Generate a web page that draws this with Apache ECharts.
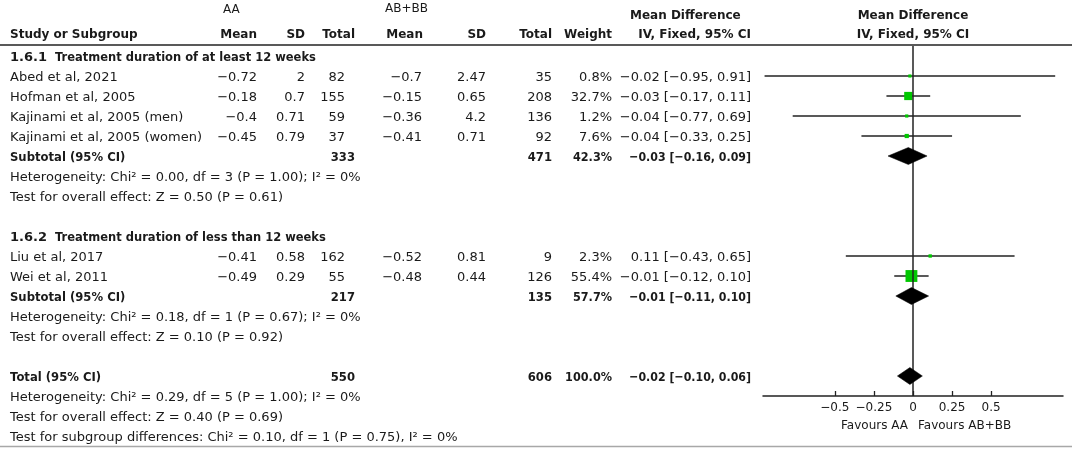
<!DOCTYPE html>
<html>
<head>
<meta charset="utf-8">
<script src="https://cdn.jsdelivr.net/npm/echarts@6/dist/echarts.min.js"></script>
<style>
  html, body { margin: 0; padding: 0; background: #fff; }
  #chart { width: 1072px; height: 450px; }
</style>
</head>
<body>
<div id="chart"></div>
<script>
// study rows
var studies = ['Abed et al, 2021', 'Hofman et al, 2005', 'Kajinami et al, 2005 (men)',
               'Kajinami et al, 2005 (women)', 'Liu et al, 2017', 'Wei et al, 2011'];
var studyRow = [1, 2, 3, 4, 10, 11];
var aaMean = [-0.72, -0.18, -0.4, -0.45, -0.41, -0.49];
var aaSD = [2, 0.7, 0.71, 0.79, 0.58, 0.29];
var aaN = [82, 155, 59, 37, 162, 55];
var abMean = [-0.7, -0.15, -0.36, -0.41, -0.52, -0.48];
var abSD = [2.47, 0.65, 4.2, 0.71, 0.81, 0.44];
var abN = [35, 208, 136, 92, 9, 126];
var weight = [0.8, 32.7, 1.2, 7.6, 2.3, 55.4];
var md = [-0.02, -0.03, -0.04, -0.04, 0.11, -0.01];
var ciLo = [-0.95, -0.17, -0.77, -0.33, -0.43, -0.12];
var ciHi = [0.91, 0.11, 0.69, 0.25, 0.65, 0.10];

// pooled rows
var poolNames = ['Subtotal (95% CI)', 'Subtotal (95% CI)', 'Total (95% CI)'];
var poolRow = [5, 12, 16];
var poolAaN = [333, 217, 550];
var poolAbN = [471, 135, 606];
var poolW = [42.3, 57.7, 100.0];
var poolMd = [-0.03, -0.01, -0.02];
var poolLo = [-0.16, -0.11, -0.10];
var poolHi = [0.09, 0.10, 0.06];

// subgroup headings and test lines
var groupIds = ['1.6.1', '1.6.2'];
var groupTitles = ['Treatment duration of at least 12 weeks', 'Treatment duration of less than 12 weeks'];
var groupRow = [0, 9];
var statText = [
    'Heterogeneity: Chi² = 0.00, df = 3 (P = 1.00); I² = 0%',
    'Test for overall effect: Z = 0.50 (P = 0.61)',
    'Heterogeneity: Chi² = 0.18, df = 1 (P = 0.67); I² = 0%',
    'Test for overall effect: Z = 0.10 (P = 0.92)',
    'Heterogeneity: Chi² = 0.29, df = 5 (P = 1.00); I² = 0%',
    'Test for overall effect: Z = 0.40 (P = 0.69)',
    'Test for subgroup differences: Chi² = 0.10, df = 1 (P = 0.75), I² = 0%'
];
var statRow = [6, 7, 13, 14, 17, 18, 19];

// axis ticks
var tickValues = [-0.5, -0.25, 0, 0.25, 0.5];

var FONT = '"DejaVu Sans"';
var INK = '#1a1a1a';

function fmt(v) { return String(v).replace('-', '\u2212'); }
function fmt2(v) { return v.toFixed(2).replace('-', '\u2212'); }
function ciText(m, lo, hi) { return fmt2(m) + ' [' + fmt2(lo) + ', ' + fmt2(hi) + ']'; }

var chart = echarts.init(document.getElementById('chart'));

var squareData = [], ciData = [];
for (var i = 0; i < studies.length; i++) {
    squareData.push([md[i], studyRow[i], weight[i]]);
    ciData.push([ciLo[i], ciHi[i], studyRow[i]]);
}
var diamondData = [];
for (var j = 0; j < poolRow.length; j++) {
    diamondData.push([poolMd[j], poolLo[j], poolHi[j], poolRow[j]]);
}

var option = {
    animation: false,
    grid: { left: 763, right: 9, top: 46, bottom: 54 },
    xAxis: {
        type: 'value',
        min: -0.96,
        max: 0.96,
        splitLine: { show: false },
        axisLine: { onZero: false, lineStyle: { color: '#222', width: 1.5 } },
        axisTick: { inside: true, length: 5, customValues: tickValues, lineStyle: { color: '#222', width: 1.3 } },
        axisLabel: {
            customValues: tickValues,
            margin: 6,
            fontSize: 12,
            fontFamily: 'DejaVu Sans',
            color: INK,
            formatter: function (v) { return v === 0 ? '0' : fmt(v); }
        }
    },
    yAxis: { type: 'value', inverse: true, min: -0.5, max: 17, show: false },
    series: [
        {
            // zero line
            type: 'scatter',
            data: [],
            z: 1,
            markLine: {
                silent: true,
                symbol: 'none',
                label: { show: false },
                lineStyle: { color: '#222', width: 1.5, type: 'solid' },
                data: [{ xAxis: 0 }]
            }
        },
        {
            type: 'custom',
            name: 'ci',
            renderItem: function (params, api) {
                var a = api.coord([api.value(0), api.value(2)]);
                var b = api.coord([api.value(1), api.value(2)]);
                return {
                    type: 'line',
                    shape: { x1: a[0], y1: a[1], x2: b[0], y2: b[1] },
                    style: { stroke: '#222', lineWidth: 1.5 }
                };
            },
            data: ciData,
            z: 2
        },
        {
            type: 'scatter',
            symbol: 'rect',
            symbolSize: function (d) { return 3 + d[2] * 0.16; },
            itemStyle: { color: '#00c800', opacity: 1 },
            data: squareData,
            z: 3
        },
        {
            type: 'custom',
            name: 'pooled',
            renderItem: function (params, api) {
                var row = api.value(3);
                var c = api.coord([api.value(0), row]);
                var l = api.coord([api.value(1), row]);
                var r = api.coord([api.value(2), row]);
                var h = 8.5;
                return {
                    type: 'polygon',
                    shape: { points: [[l[0], c[1]], [c[0], c[1] - h], [r[0], c[1]], [c[0], c[1] + h]] },
                    style: { fill: '#000', stroke: '#000', lineWidth: 0.5 }
                };
            },
            data: diamondData,
            z: 10
        }
    ]
};
chart.setOption(option);

function rowY(r) { return chart.convertToPixel({ gridIndex: 0 }, [0, r])[1] + 1.5; }

function txt(x, y, s, opts) {
    opts = opts || {};
    return {
        type: 'text',
        x: x, y: y,
        scaleX: opts.squeeze || 1,
        silent: true,
        style: {
            text: s,
            fill: opts.color || INK,
            font: (opts.bold ? 'bold ' : '') + (opts.size || 13) + 'px ' + FONT,
            textAlign: opts.align || 'left',
            textVerticalAlign: 'middle'
        }
    };
}

var g = [];
// header
g.push(txt(223, 10, 'AA', { size: 12 }));
g.push(txt(385, 9, 'AB+BB', { size: 12 }));
g.push(txt(630, 16, 'Mean Difference', { size: 12, bold: true }));
g.push(txt(913, 16, 'Mean Difference', { size: 12, bold: true, align: 'center' }));
var hy = 35;
g.push(txt(10, hy, 'Study or Subgroup', { size: 12, bold: true }));
g.push(txt(257, hy, 'Mean', { size: 12, bold: true, align: 'right' }));
g.push(txt(305, hy, 'SD', { size: 12, bold: true, align: 'right' }));
g.push(txt(355, hy, 'Total', { size: 12, bold: true, align: 'right' }));
g.push(txt(423, hy, 'Mean', { size: 12, bold: true, align: 'right' }));
g.push(txt(486, hy, 'SD', { size: 12, bold: true, align: 'right' }));
g.push(txt(552, hy, 'Total', { size: 12, bold: true, align: 'right' }));
g.push(txt(612, hy, 'Weight', { size: 12, bold: true, align: 'right' }));
g.push(txt(751, hy, 'IV, Fixed, 95% CI', { size: 12, bold: true, align: 'right' }));
g.push(txt(913, hy, 'IV, Fixed, 95% CI', { size: 12, bold: true, align: 'center' }));
g.push({ type: 'line', silent: true, shape: { x1: 0, y1: 45, x2: 1072, y2: 45 }, style: { stroke: '#222', lineWidth: 1.5 } });
g.push({ type: 'line', silent: true, shape: { x1: 0, y1: 446.5, x2: 1072, y2: 446.5 }, style: { stroke: '#a8a8a8', lineWidth: 1.5 } });

// subgroup headings
for (var k = 0; k < groupIds.length; k++) {
    var gy = rowY(groupRow[k]);
    g.push(txt(10, gy, groupIds[k], { size: 13, bold: true }));
    g.push(txt(55, gy + 0.5, groupTitles[k], { size: 11.5, bold: true }));
}
// studies
for (var i2 = 0; i2 < studies.length; i2++) {
    var y = rowY(studyRow[i2]);
    g.push(txt(10, y, studies[i2]));
    g.push(txt(257, y, fmt(aaMean[i2]), { align: 'right' }));
    g.push(txt(305, y, fmt(aaSD[i2]), { align: 'right' }));
    g.push(txt(345, y, String(aaN[i2]), { align: 'right' }));
    g.push(txt(422, y, fmt(abMean[i2]), { align: 'right' }));
    g.push(txt(486, y, fmt(abSD[i2]), { align: 'right' }));
    g.push(txt(552, y, String(abN[i2]), { align: 'right' }));
    g.push(txt(612, y, weight[i2].toFixed(1) + '%', { align: 'right' }));
    g.push(txt(751, y, ciText(md[i2], ciLo[i2], ciHi[i2]), { align: 'right' }));
}
// pooled
for (var j2 = 0; j2 < poolNames.length; j2++) {
    var py = rowY(poolRow[j2]);
    g.push(txt(10, py, poolNames[j2], { bold: true, size: 12.5, squeeze: 0.93 }));
    g.push(txt(355, py, String(poolAaN[j2]), { bold: true, size: 12.5, squeeze: 0.93, align: 'right' }));
    g.push(txt(552, py, String(poolAbN[j2]), { bold: true, size: 12.5, squeeze: 0.93, align: 'right' }));
    g.push(txt(612, py, poolW[j2].toFixed(1) + '%', { bold: true, size: 12.8, squeeze: 0.88, align: 'right' }));
    g.push(txt(751, py, ciText(poolMd[j2], poolLo[j2], poolHi[j2]), { bold: true, size: 12.8, squeeze: 0.86, align: 'right' }));
}
// test statistics
for (var s = 0; s < statText.length; s++) {
    g.push(txt(10, rowY(statRow[s]), statText[s]));
}
// favours labels
g.push(txt(908, 426, 'Favours AA', { size: 12, align: 'right' }));
g.push(txt(918, 426, 'Favours AB+BB', { size: 12 }));

chart.setOption({ graphic: g });
</script>
</body>
</html>
